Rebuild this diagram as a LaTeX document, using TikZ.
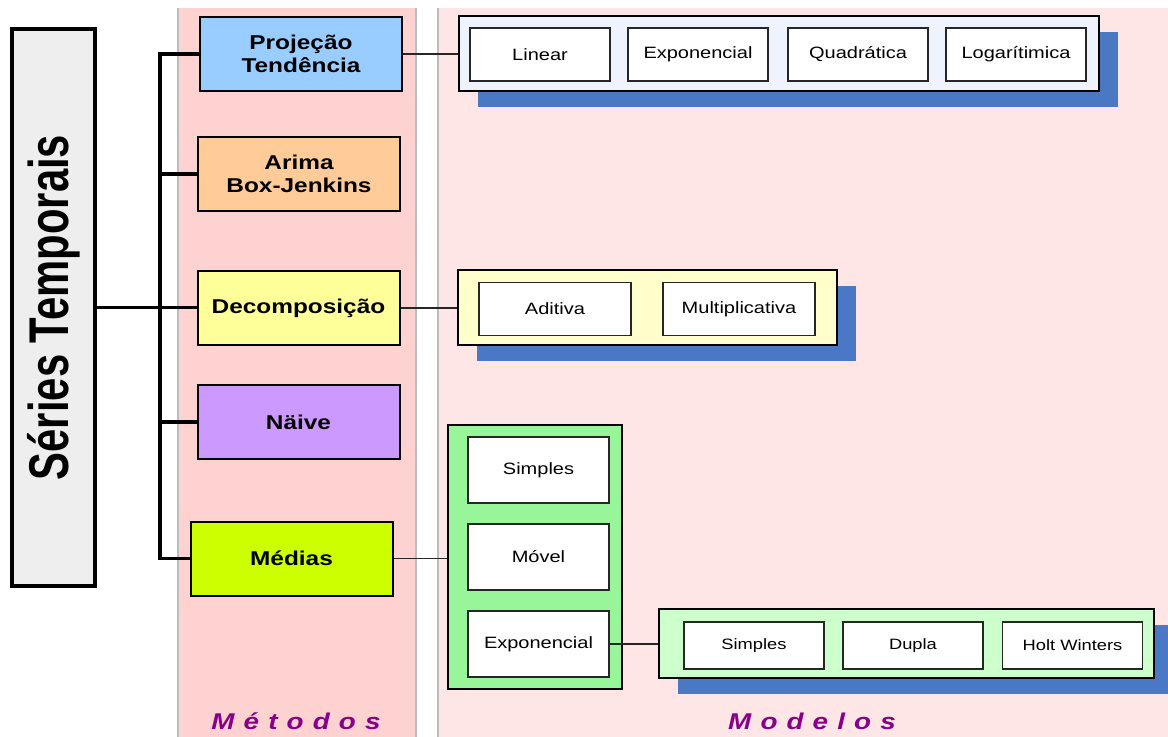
\documentclass[tikz,border=0pt]{standalone}
\usepackage{graphicx}
\usepackage{xcolor}
\usepackage{fontspec}
\setmainfont{Liberation Sans}[FakeStretch=1.22]
\newfontfamily\tituloserie{Liberation Sans}
\usepackage{tikz}
\usetikzlibrary{positioning, shadows}

\definecolor{faixametodos}{HTML}{FFD2D2}
\definecolor{faixamodelos}{HTML}{FFE6E6}
\definecolor{borda}{HTML}{BDBDBD}
\definecolor{cinza}{HTML}{EEEEEE}
\definecolor{azul}{HTML}{99CCFF}
\definecolor{laranja}{HTML}{FFCC99}
\definecolor{amarelo}{HTML}{FFFF99}
\definecolor{lilas}{HTML}{CC99FF}
\definecolor{limao}{HTML}{CCFF00}
\definecolor{azulclaro}{HTML}{EEF3FF}
\definecolor{amareloclaro}{HTML}{FFFFCC}
\definecolor{verde}{HTML}{99F599}
\definecolor{verdeclaro}{HTML}{CCFFCC}
\definecolor{sombra}{HTML}{4A78C4}
\definecolor{roxo}{HTML}{880088}

\begin{document}
\begin{tikzpicture}[x=0.5pt, y=-0.5pt,
        metodo/.style={rectangle, draw=black, line width=1pt, minimum width=101pt, minimum height=37pt, align=center, inner sep=0pt, font=\fontsize{10}{11.5}\selectfont\bfseries},
        grupo/.style={rectangle, draw=black, line width=1pt, inner sep=0pt},
        sombreado/.style={drop shadow={shadow xshift=9.5pt, shadow yshift=-8pt, fill=sombra, opacity=1}},
        modelo/.style={rectangle, draw=black!85, line width=0.9pt, fill=white, minimum width=70pt, minimum height=26.5pt, inner sep=0pt, font=\fontsize{8.2}{10}\selectfont},
        submodelo/.style={modelo, minimum height=23.5pt, font=\fontsize{7.5}{9}\selectfont},
        tronco/.style={line width=1.6pt},
        liga/.style={line width=0.8pt, draw=black!85},
        rotulo/.style={anchor=base, font=\fontsize{11.4}{13}\selectfont\bfseries\itshape\addfontfeature{LetterSpace=40}, text=roxo}
    ]
        \useasboundingbox (0,0) rectangle (1168,736);

        \fill[faixametodos] (178,8) rectangle (416,740);
        \draw[borda, line width=0.8pt] (178,8) -- (178,740) (416,8) -- (416,740);
        \fill[faixamodelos] (438,8) rectangle (1172,740);
        \draw[borda, line width=0.8pt] (438,8) -- (438,740);

        \node[rectangle, draw=black, line width=1.6pt, fill=cinza, minimum width=41.5pt, minimum height=278.5pt, inner sep=0pt] (series) at (53.5,307.5) {
            \tituloserie\bfseries\fontsize{20.9}{24}\selectfont\rotatebox{90}{\scalebox{1}[1.34]{Séries Temporais}}
        };

        \node[metodo, fill=azul] (proj) at (301,54) {Projeção\\Tendência};
        \node[metodo, fill=laranja] (arima) at (299,174) {Arima\\Box-Jenkins};
        \node[metodo, fill=amarelo] (decomp) at (298.5,308) {Decomposição};
        \node[metodo, fill=lilas] (naive) at (298.5,422) {Näive};
        \node[metodo, fill=limao] (medias) at (291.5,558.5) {Médias};

        \node[grupo, sombreado, fill=azulclaro, minimum width=320pt, minimum height=37.5pt] (gtend) at (779,53.5) {};
        \node[modelo] (linear) at (540,54.5) {Linear};
        \node[modelo] (exponencial) at (698,54.5) {Exponencial};
        \node[modelo] (quadratica) at (858,54.5) {Quadrática};
        \node[modelo] (logaritmica) at (1016,54.5) {Logarítimica};

        \node[grupo, sombreado, fill=amareloclaro, minimum width=189.5pt, minimum height=37.5pt] (gdecomp) at (647.5,307.5) {};
        \node[modelo, minimum width=76pt] (aditiva) at (555,309) {Aditiva};
        \node[modelo, minimum width=76pt] (multiplicativa) at (739,309) {Multiplicativa};

        \node[grupo, fill=verde, minimum width=87pt, minimum height=132pt] (gmedias) at (535,557) {};
        \node[modelo, minimum width=70.5pt, minimum height=33pt] (msimples) at (538.5,470) {Simples};
        \node[modelo, minimum width=70.5pt, minimum height=33pt] (movel) at (538.5,557) {Móvel};
        \node[modelo, minimum width=70.5pt, minimum height=33pt] (mexp) at (538.5,644) {Exponencial};

        \node[grupo, sombreado, fill=verdeclaro, minimum width=247.5pt, minimum height=34.5pt] (gexp) at (906.5,643.5) {};
        \node[submodelo] (esimples) at (754,645.5) {Simples};
        \node[submodelo] (dupla) at (913,645.5) {Dupla};
        \node[submodelo] (holt) at (1072.5,645.5) {Holt Winters};

        \node[rotulo] (lmetodos) at (296,729) {Métodos};
        \node[rotulo] (lmodelos) at (812,729) {Modelos};

        \coordinate (eixo) at (160,307);
        \draw[tronco] (series.east) -- (series.east -| decomp.west);
        \draw[tronco] (proj.west) -- (proj.west -| eixo) |- (medias.west);
        \draw[tronco] (arima.west) -- (arima.west -| eixo);
        \draw[tronco] (naive.west) -- (naive.west -| eixo);

        \draw[liga] (proj.east) -- (proj.east -| gtend.west);
        \draw[liga] (decomp.east) -- (decomp.east -| gdecomp.west);
        \draw[liga] (medias.east) -- (medias.east -| gmedias.west);
        \draw[liga] (mexp.east) -- (mexp.east -| gexp.west);
    \end{tikzpicture}
\end{document}
